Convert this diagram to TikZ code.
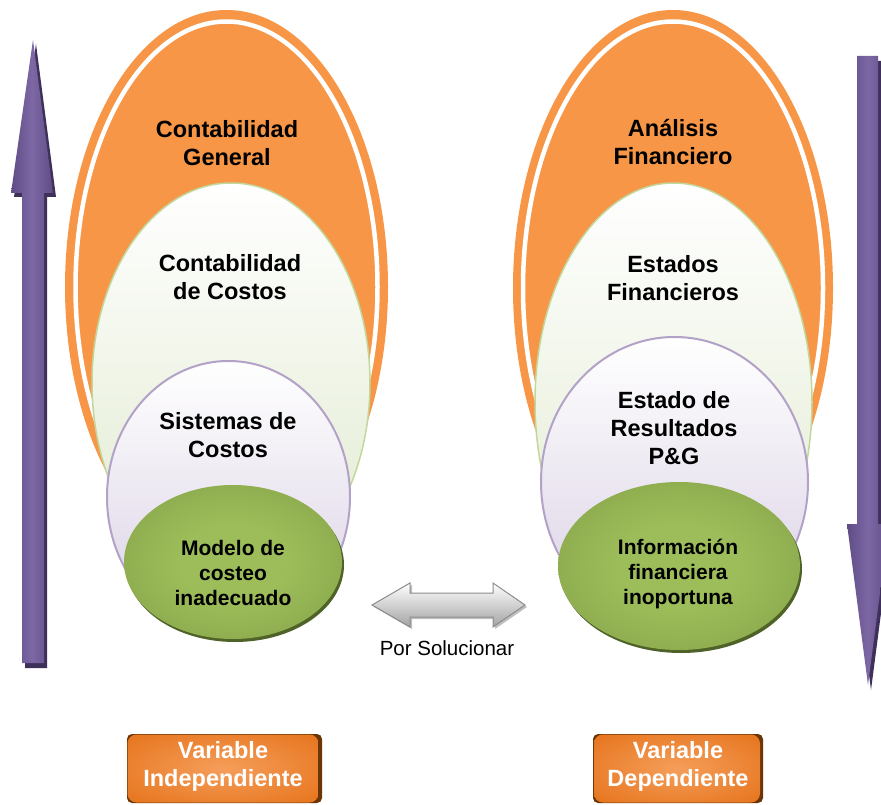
\documentclass[tikz,border=0pt]{standalone}
\usepackage{fontspec}
\setmainfont{Liberation Sans}
\usetikzlibrary{shadows,shapes.geometric}

\definecolor{orng}{HTML}{F79646}
\definecolor{lgreen}{HTML}{C3D69B}
\definecolor{lgfill}{HTML}{E0EACF}
\definecolor{lav}{HTML}{B3A2C7}
\definecolor{lavfill}{HTML}{D9D0E4}
\definecolor{gcenter}{HTML}{9DBD5A}
\definecolor{gedge}{HTML}{76923C}
\definecolor{gshadow}{HTML}{4F6228}
\definecolor{purp}{HTML}{5F4C85}
\definecolor{purplight}{HTML}{7D68A5}
\definecolor{purpdark}{HTML}{3E3159}
\definecolor{boxdark}{HTML}{E2690C}
\definecolor{boxlight}{HTML}{F59E5A}
\definecolor{boxshadow}{HTML}{6A3608}
\definecolor{arrgray}{HTML}{8C8C8C}
\definecolor{arrfill}{HTML}{A3A3A3}

\pgfdeclareradialshading{greenball}{\pgfpoint{0bp}{0bp}}{color(0bp)=(gcenter); color(12bp)=(gcenter); color(50bp)=(gedge); color(100bp)=(gedge)}
\pgfdeclareradialshading{orangebox}{\pgfpoint{0bp}{0bp}}{color(0bp)=(boxlight); color(45bp)=(boxdark); color(100bp)=(boxdark)}

\tikzset{
  bigtext/.style={font=\fontsize{23.5}{28}\selectfont\bfseries, align=center, text=black},
  smalltext/.style={font=\fontsize{21}{25}\selectfont\bfseries, align=center, text=black},
  orangeell/.style={ellipse, fill=orng, inner sep=0pt},
  greenell/.style={ellipse, inner sep=0pt, draw=lgreen, line width=1.5pt, top color=white, bottom color=lgfill},
  lavell/.style={ellipse, inner sep=0pt, draw=lav, line width=2pt, top color=white, bottom color=lavfill},
  coreell/.style={ellipse, inner sep=0pt, shading=greenball, drop shadow={shadow xshift=2pt, shadow yshift=-3pt, fill=gshadow, opacity=1}},
  varbox/.style={rectangle, rounded corners=9pt, inner sep=0pt, shading=orangebox},
  vartext/.style={font=\fontsize{23.5}{28}\selectfont\bfseries, align=center, text=white},
}

\begin{document}
\begin{tikzpicture}[x=1pt,y=-1pt]
\useasboundingbox (0,0) rectangle (881,805);
\clip (0,0) rectangle (881,805);

% ---------- left purple arrow (up) ----------
\fill[purpdark] (36,44) -- (56,197) -- (47,197) -- (47,668) -- (25,668) -- (25,197) -- (14,197) -- cycle;
\shade[left color=purp, right color=purp, middle color=purplight]
  (33,40) -- (53,193) -- (44,193) -- (44,663) -- (22,663) -- (22,193) -- (11,193) -- cycle;

% ---------- right purple arrow (down) ----------
\fill[purpdark] (860,61) -- (881,61) -- (881,529) -- (892,529) -- (871,690) -- (850,529) -- (860,529) -- cycle;
\shade[left color=purp, right color=purp, middle color=purplight]
  (857,56) -- (878,56) -- (878,524) -- (889,524) -- (868,685) -- (847,524) -- (857,524) -- cycle;

% ---------- left group ----------
\node[orangeell, minimum width=323pt, minimum height=554pt] (lorange) at (226.5,287) {};
\draw[white, line width=4.5pt] (lorange.center) ellipse [x radius=151pt, y radius=265.5pt];
\node[greenell, minimum width=278pt, minimum height=400pt] (lgreen) at (231,383) {};
\node[lavell, minimum width=243pt, minimum height=272pt] (llav) at (228.5,497) {};
\node[coreell, minimum width=218pt, minimum height=154pt] (lcore) at (233,562) {};

\node[bigtext] (t1) at (227,143) {Contabilidad\\General};
\node[bigtext] (t2) at (230,277) {Contabilidad\\de Costos};
\node[bigtext] (t3) at (228,435) {Sistemas de\\Costos};
\node[smalltext] (t4) at (233,573) {Modelo de\\costeo\\inadecuado};

% ---------- right group ----------
\node[orangeell, minimum width=320pt, minimum height=556pt] (rorange) at (673,288) {};
\draw[white, line width=4.5pt] (rorange.center) ellipse [x radius=150pt, y radius=266.5pt];
\node[greenell, minimum width=277pt, minimum height=438pt] (rgreen) at (673.5,402) {};
\node[lavell, minimum width=267pt, minimum height=290pt] (rlav) at (674.5,482) {};
\node[coreell, minimum width=242pt, minimum height=168pt] (rcore) at (679,566) {};

\node[bigtext] (s1) at (673,142) {Análisis\\Financiero};
\node[bigtext] (s2) at (673,278) {Estados\\Financieros};
\node[bigtext] (s3) at (674,428) {Estado de\\Resultados\\P\&G};
\node[smalltext] (s4) at (678,574) {Información\\financiera\\inoportuna};

% ---------- double arrow ----------
\shade[top color=white, bottom color=arrfill, draw=arrgray, line width=1pt,
  drop shadow={shadow xshift=2pt, shadow yshift=-2pt, fill=black, opacity=0.25}]
  (372,605) -- (410,583) -- (410,593) -- (493,593) -- (493,583) -- (525,605)
  -- (493,627) -- (493,617) -- (410,617) -- (410,627) -- cycle;
\node[font=\fontsize{20.5}{24}\selectfont, text=black] (porsol) at (447,648) {Por Solucionar};

% ---------- variable boxes ----------
\fill[boxshadow, rounded corners=5pt] (127,734) rectangle (322,803);
\node[varbox, minimum width=191pt, minimum height=68pt] (vind) at (223,768.5) {};
\node[vartext] (vindt) at (223,766.5) {Variable\\Independiente};

\fill[boxshadow, rounded corners=5pt] (593,734) rectangle (763,803);
\node[varbox, minimum width=166pt, minimum height=68pt] (vdep) at (677,768.5) {};
\node[vartext] (vdept) at (678,766.5) {Variable\\Dependiente};
\end{tikzpicture}
\end{document}
